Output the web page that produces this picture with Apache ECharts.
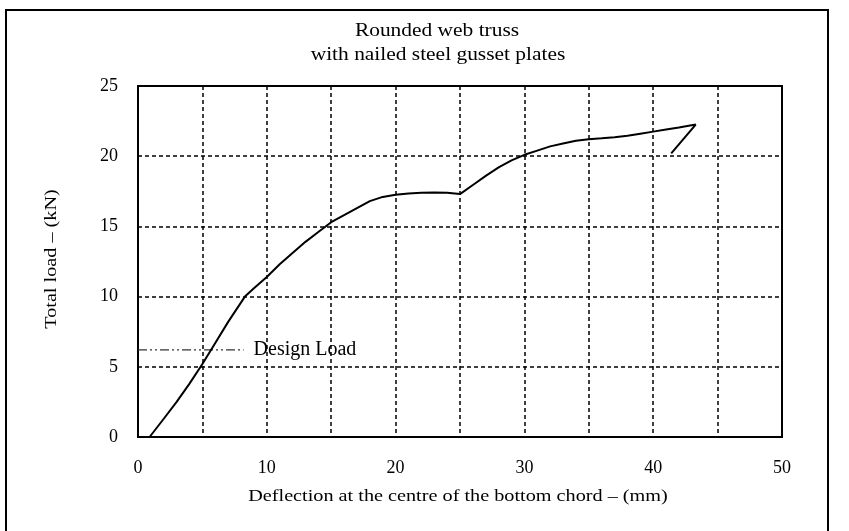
<!DOCTYPE html>
<html>
<head>
<meta charset="utf-8">
<script src="https://cdn.jsdelivr.net/npm/echarts@6/dist/echarts.min.js"></script>
<style>html,body{margin:0;padding:0;background:#fff}#c{width:849px;height:531px}</style>
</head>
<body>
<div id="c"></div>
<script>
const titleLines = ['Rounded web truss', 'with nailed steel gusset plates'];
const xAxisName = 'Deflection at the centre of the bottom chord \u2013 (mm)';
const yAxisName = 'Total load \u2013 (kN)';
const deflection = [0.9, 2.0, 3.0, 4.0, 5.0, 6.0, 7.0, 8.3, 9.0, 10.0, 11.0, 12.0, 13.0, 14.0, 15.0, 16.0, 17.0, 18.0, 19.0, 20.0, 21.0, 22.0, 23.0, 24.0, 25.0, 26.0, 27.0, 28.0, 29.0, 30.0, 31.0, 32.0, 33.0, 34.0, 35.0, 36.0, 37.0, 38.0, 39.0, 40.0, 41.0, 42.0, 43.3, 41.4];
const load = [0.0, 1.3, 2.5, 3.8, 5.2, 6.7, 8.2, 10.0, 10.6, 11.4, 12.3, 13.1, 13.9, 14.6, 15.3, 15.8, 16.3, 16.8, 17.1, 17.25, 17.35, 17.4, 17.42, 17.4, 17.3, 17.95, 18.6, 19.2, 19.7, 20.1, 20.4, 20.7, 20.9, 21.1, 21.2, 21.27, 21.35, 21.45, 21.6, 21.75, 21.9, 22.05, 22.25, 20.2];
const designLoadX = [0, 8.2];
const designLoadY = [6.2, 6.2];
const designLabel = 'Design Load';
const xTicks = [0, 10, 20, 30, 40, 50];
const yTicks = [0, 5, 10, 15, 20, 25];

const chart = echarts.init(document.getElementById('c'));
const serif = 'Liberation Serif, Times New Roman, serif';
const txt = (text, x, y, size, rot) => ({
  type: 'text', x: x, y: y, scaleX: 1.19, rotation: rot || 0, silent: true, z: 50,
  style: {text: text, fontFamily: serif, fontSize: size, fill: '#000',
    textAlign: 'center', textVerticalAlign: 'middle'}
});
chart.setOption({
  animation: false,
  backgroundColor: '#fff',
  grid: {left: 138, right: 67, top: 86, bottom: 94, show: true, borderColor: '#000', borderWidth: 2},
  xAxis: {
    type: 'value', min: 0, max: 50, interval: 5,
    axisLine: {show: true, lineStyle: {color: '#000', width: 2}},
    axisTick: {show: false},
    axisLabel: {margin: 22, fontFamily: serif, fontSize: 18, color: '#000',
      formatter: v => xTicks.includes(v) ? String(v) : ''},
    splitLine: {show: true, lineStyle: {color: '#000', width: 1.5, type: [4, 3]}}
  },
  yAxis: {
    type: 'value', min: 0, max: 25, interval: 5,
    axisLine: {show: true, lineStyle: {color: '#000', width: 2}},
    axisTick: {show: false},
    axisLabel: {margin: 20, fontFamily: serif, fontSize: 18, color: '#000',
      formatter: v => yTicks.includes(v) ? String(v) : ''},
    splitLine: {show: true, lineStyle: {color: '#000', width: 1.5, type: [4, 3]}}
  },
  graphic: [{
    type: 'rect', z: 100, silent: true,
    shape: {x: 6, y: 10, width: 822, height: 560},
    style: {fill: 'none', stroke: '#000', lineWidth: 2}
  },
    txt(titleLines[0], 437, 31, 18),
    txt(titleLines[1], 438, 55, 18),
    txt(xAxisName, 458, 497, 17),
    txt(yAxisName, 52, 259, 17, Math.PI / 2)
  ],
  series: [{
    type: 'line', data: deflection.map((x, i) => [x, load[i]]),
    showSymbol: false, smooth: false,
    lineStyle: {color: '#000', width: 2}, z: 5
  }, {
    type: 'line', data: designLoadX.map((x, i) => [x, designLoadY[i]]),
    showSymbol: false,
    lineStyle: {color: '#333', width: 1.2, type: [9, 3, 2, 3, 2, 3]},
    endLabel: {show: true, formatter: designLabel, distance: 10,
      fontFamily: serif, fontSize: 20, color: '#000'},
    z: 4
  }]
});
</script>
</body>
</html>
